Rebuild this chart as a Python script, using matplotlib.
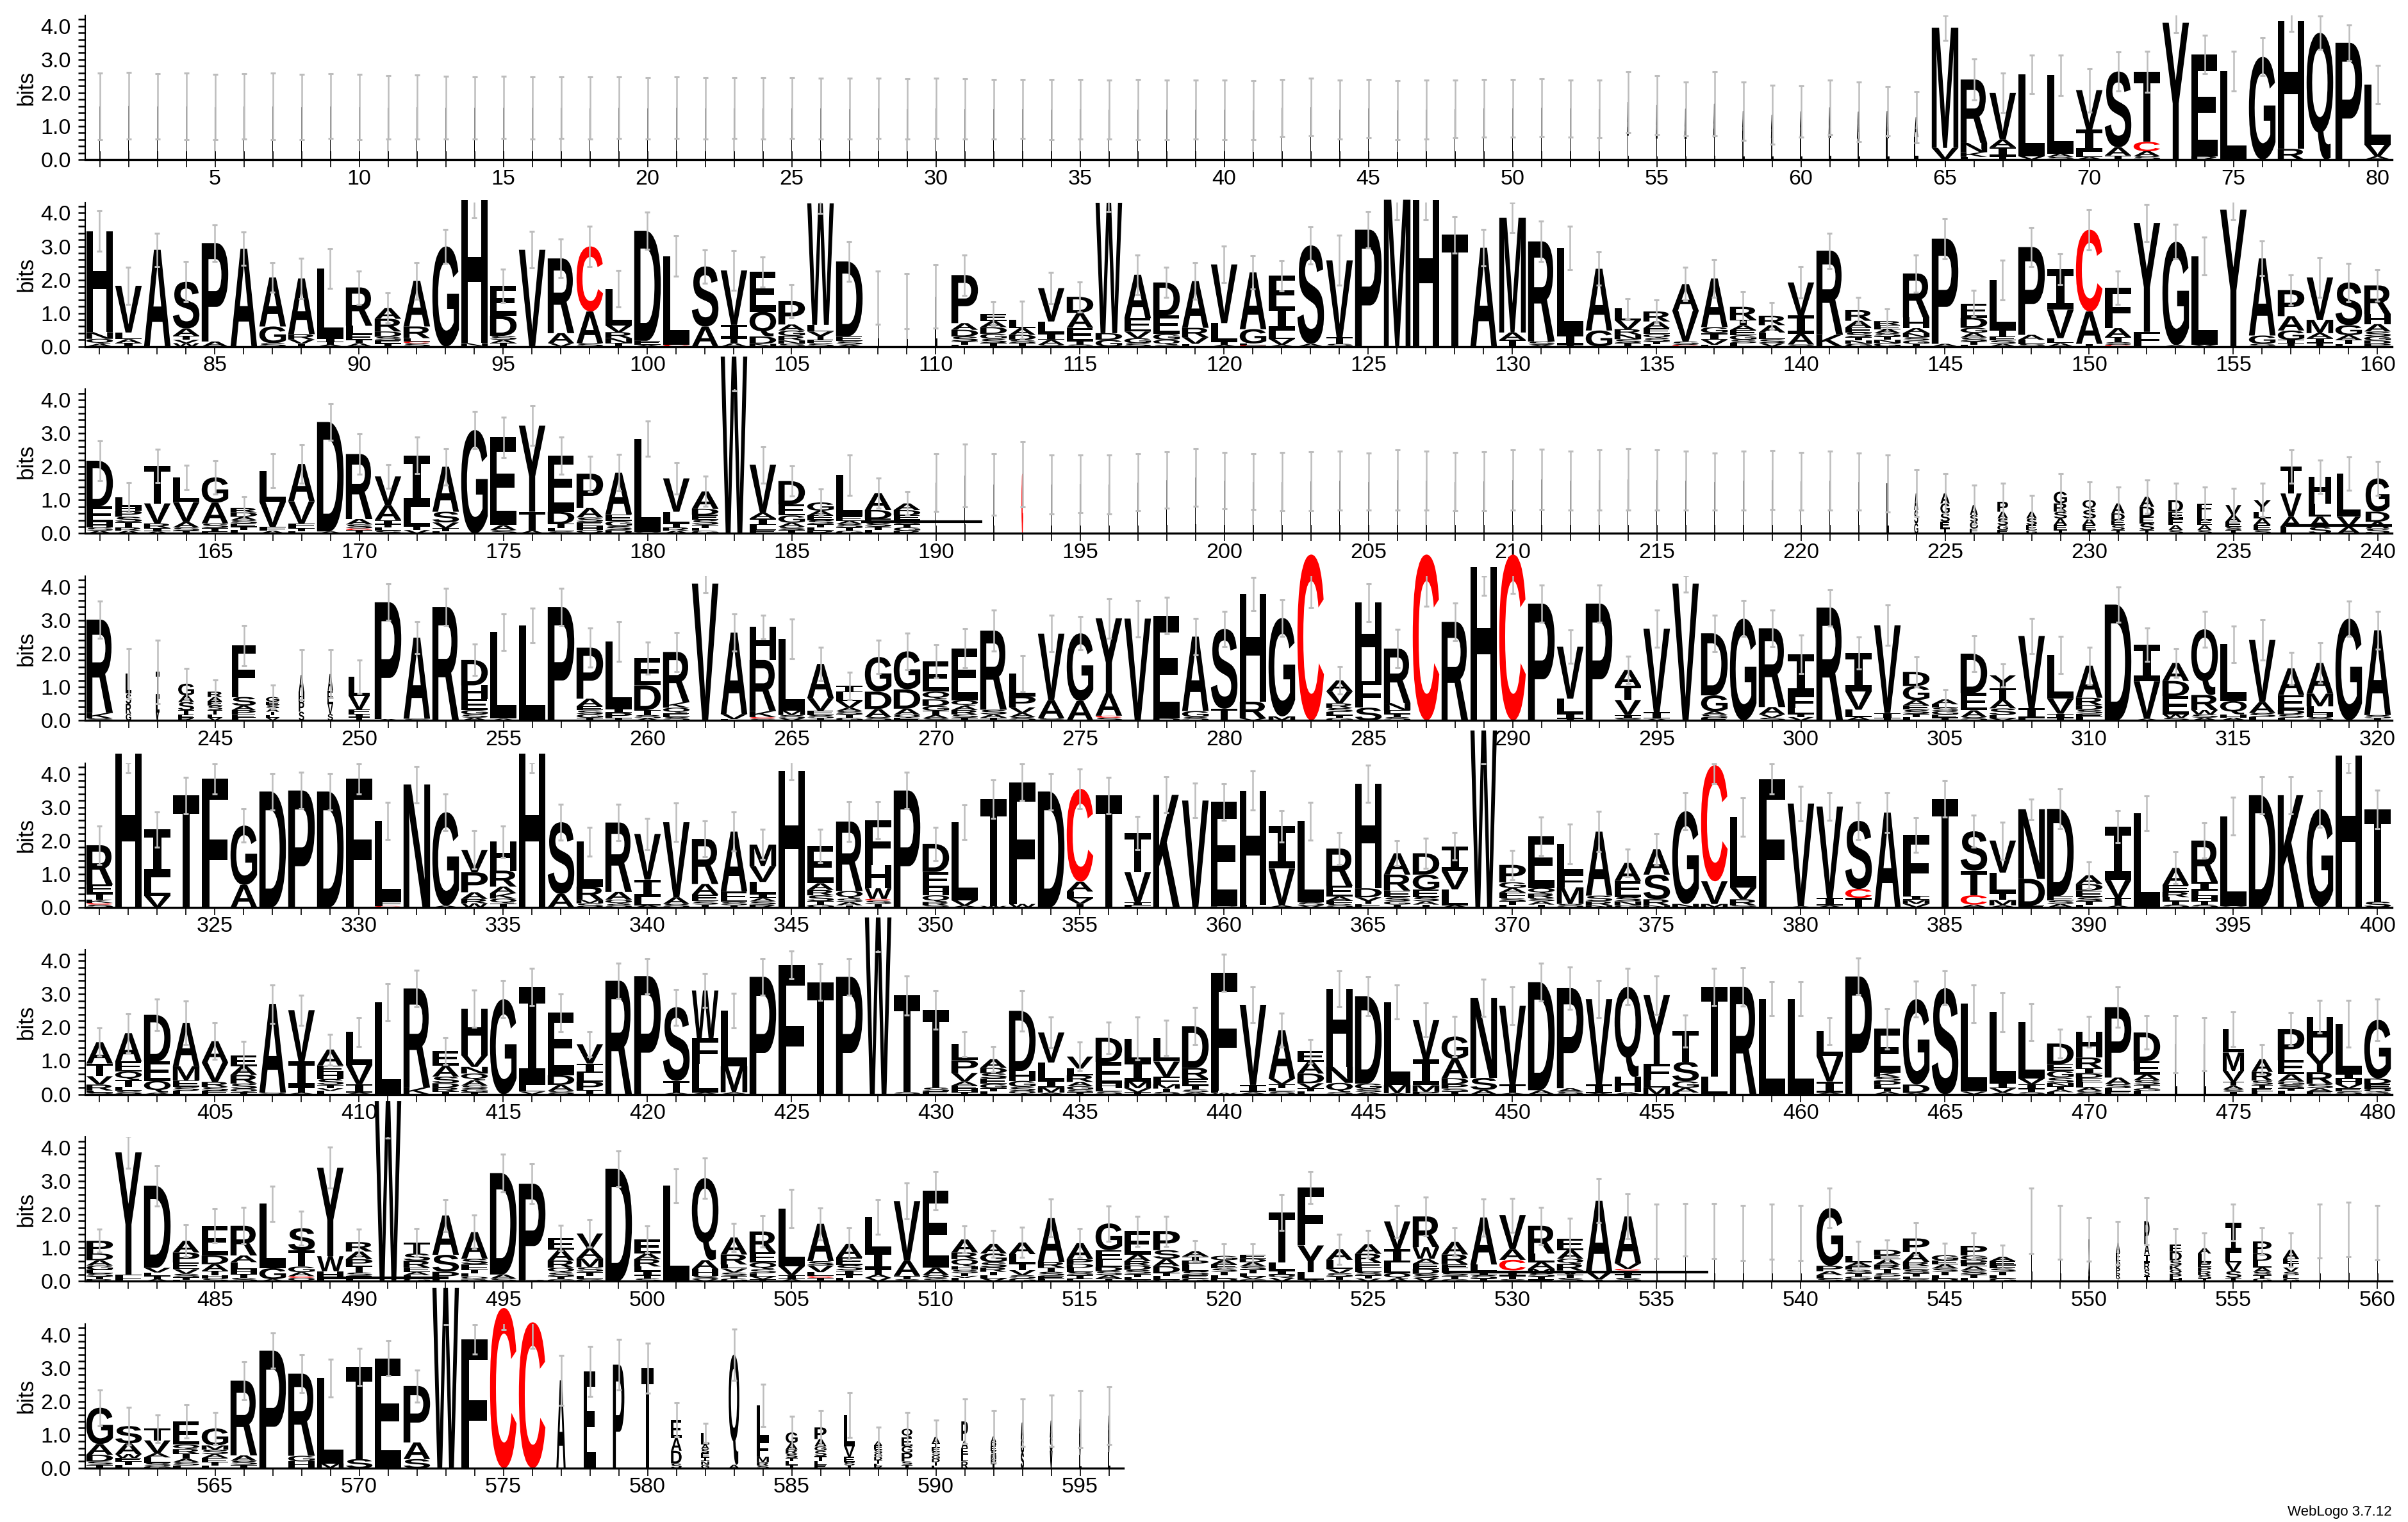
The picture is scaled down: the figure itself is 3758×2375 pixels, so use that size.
import matplotlib
matplotlib.use("Agg")
import matplotlib.pyplot as plt
from matplotlib.textpath import TextPath
from matplotlib.patches import PathPatch
from matplotlib.font_manager import FontProperties
from matplotlib.transforms import Affine2D
from matplotlib.ticker import MultipleLocator

# one string per column: letters from the top of the stack down with their
# height in bits, e = half length of the error bar, c = error bar centre when
# it is not the stack top, w = stack width (gappy columns are narrow)
row1 = [
    "L1.6 e1.0 w.02", "L1.62 e1.0 w.02", "L1.6 e.98 w.02", "L1.6 e1.0 w.02", "L1.58 e.98 w.02",
    "L1.6 e.98 w.02", "L1.6 e1.0 w.02", "L1.58 e.98 w.02", "L1.6 e.97 w.02", "L1.58 e.98 w.02",
    "L1.56 e.95 w.02", "L1.58 e.96 w.02", "L1.55 e.94 w.02", "L1.55 e.93 w.02", "L1.56 e.93 w.02",
    "L1.55 e.93 w.02", "L1.55 e.92 w.02", "L1.54 e.93 w.02", "L1.55 e.92 w.02", "L1.54 e.92 w.02",
    "L1.55 e.92 w.02", "L1.53 e.92 w.02", "L1.54 e.91 w.02", "L1.53 e.92 w.02", "L1.54 e.91 w.02",
    "L1.53 e.91 w.02", "L1.52 e.91 w.02", "L1.53 e.9 w.02", "L1.52 e.9 w.02", "L1.53 e.9 w.02",
    "L1.52 e.9 w.02", "L1.51 e.9 w.02", "L1.52 e.89 w.02", "L1.5 e.9 w.02", "L1.51 e.89 w.02",
    "L1.5 e.89 w.02", "L1.5 e.9 w.02", "L1.49 e.89 w.02", "L1.5 e.89 w.02", "L1.49 e.89 w.02",
    "L1.48 e.88 w.02", "L1.55 e.86 w.02", "L1.57 e.86 w.02", "L1.5 e.88 w.02", "L1.53 e.87 w.02",
    "L1.48 e.89 w.02", "L1.5 e.88 w.02", "L1.52 e.86 w.02", "L1.54 e.86 w.02", "L1.54 e.86 w.02",
    "L1.56 e.86 w.02", "L1.53 e.86 w.02", "L1.52 e.87 w.02", "A1.0 L.72 e.91 w.03", "A1.0 L.63 e.88 w.03",
    "A.9 L.62 e.81 w.04", "A1.0 L.67 e.96 w.04", "A.8 L.65 e.88 w.05", "A.7 L.64 e.88 w.06", "A.8 L.64 e.77 w.06",
    "A.9 L.66 e.82 w.07", "A.8 L.63 e.9 w.09", "A.8 L.65 e.74 w.1", "A.6 L.67 e.77 w.15", "M3.6 V.35 e.38",
    "R1.9 N.28 K.14 L.08 e.62", "V1.4 A.23 I.27 T.1 e.59", "L2.45 V.1 e.58", "L2.35 A.1 S.08 e.6", "V1.18 I.67 L.15 A.08 e.65",
    "S2.27 A.25 T.12 e.59", "T2.1 C.28 A.15 S.1 e.62", "Y4.1 e.3", "E3.05 R.1 e.58", "L2.65 e.6",
    "G3.08 e.57", "H3.83 R.32 e.3", "Q3.8 e.5", "P3.5 e.54", "L1.8 V.35 A.1 e.57",
]

row2 = [
    "H3.03 N.2 Q.15 A.08 e.6", "V1.4 L.2 A.12 I.1 e.55", "A2.9 e.5", "S1.4 A.22 T.12 V.1 W.1 e.6", "P2.95 A.15 e.55",
    "A2.93 e.5", "A1.47 G.5 S.1 e.45", "A1.67 R.16 V.13 T.08 e.6", "L2.1 I.1 T.08 A.06 e.6", "R1.15 L.26 E.16 T.1 A.1 e.5",
    "A.32 R.38 D.16 S.1 E.1 T.09 e.45", "A1.37 R.35 L.1 C.05 S.1 e.55", "G3.0 e.5", "H4.3 N.1 c4.13 e.27", "E.9 D.6 S.12 A.1 T.1 e.5",
    "V2.9 e.55", "R2.24 A.3 V.1 e.58", "C1.95 A.95 S.1 e.6", "L1.1 V.2 R.18 N.15 T.1 e.55", "D3.3 E.12 A.05 e.55",
    "L2.65 C.06 e.6", "S1.8 A.6 e.5", "V1.63 I.4 T.15 A.1 e.6", "E1.2 Q.74 D.22 N.08 e.45", "P.7 A.18 G.16 R.14 N.1 S.08 e.5",
    "W3.64 L.2 Y.25 E.1 S.1 e.3", "D2.24 E.15 S.1 A.06 e.6", "L1.46 e.8 w.03", "L1.36 e.83 w.03", "L1.5 e.95 w.05",
    "P1.44 A.2 D.2 S.15 T.1 L.05 e.6", "E.22 A.18 D.2 G.15 S.13 T.1 e.35", "L.25 A.2 D.15 S.1 T.1 e.55", "V1.0 L.35 I.2 A.15 S.05 e.47", "D.48 A.45 E.4 T.1 S.06 e.45",
    "W3.9 D.2 G.2 e.25", "A1.3 E.4 V.2 G.15 S.1 e.6", "D.99 E.55 G.18 Q.15 S.05 e.45", "A1.4 R.28 V.2 L.08 e.55", "V1.76 L.55 T.1 A.05 e.55",
    "A1.7 G.43 L.05 C.04 e.5", "F.92 I.72 L.25 V.18 A.05 e.45", "S2.95 A.08 e.55", "V2.3 T.2 S.08 e.75", "P3.5 e.55",
    "M4.4 c4.1 e.3", "H4.4 c4.1 e.3", "T3.35 e.55", "A2.96 e.55", "M3.44 A.22 T.2 e.45",
    "R3.0 S.1 A.05 e.6", "L2.6 I.3 T.05 e.65", "A1.85 G.48 e.5", "L.35 V.27 R.16 N.14 S.12 T.1 e.3", "R.3 A.2 E.18 Q.12 S.1 T.08 L.07 e.35",
    "A.8 V.92 S.1 C.05 e.5", "A1.46 G.18 I.2 V.15 L.05 e.56", "R.39 T.16 A.15 E.15 G.14 S.1 L.1 e.45", "R.28 A.22 L.2 S.12 V.1 e.4", "V.99 I.55 A.32 S.06 e.47",
    "R2.52 K.35 e.53", "R.32 A.2 E.15 S.14 T.1 N.1 G.08 e.38", "R.12 E.12 A.12 S.1 T.1 N.1 G.1 e.37", "R1.32 H.32 A.15 N.12 S.1 G.1 T.08 e.56", "P3.15 A.08 e.6",
    "E.43 D.3 G.15 A.14 S.12 T.1 L.05 e.4", "L1.49 T.2 E.12 S.1 A.08 e.6", "P2.63 A.15 L.12 S.08 e.58", "I1.21 V.85 L.15 A.1 e.46", "C2.45 A.97 T.08 e.6",
    "F1.21 A.27 T.15 S.08 C.05 e.5", "Y3.26 F.44 e.55", "G3.1 A.04 e.52", "L2.65 V.06 e.57", "Y4.1 e.3",
    "A2.31 G.25 S.08 e.52", "P.78 A.43 G.28 I.1 T.1 e.45", "V1.27 M.4 A.15 I.15 T.1 e.6", "S1.28 G.3 A.14 T.12 L.08 e.58", "R.86 H.3 A.22 S.15 G.12 D.1 P.08 e.47",
]

row3 = [
    "D1.37 E.48 H.15 S.1 A.08 e.6", "L.28 H.12 P.18 S.16 T.16 R.1 A.08 e.45", "T1.13 V.6 R.14 I.1 A.06 e.5", "L.74 V.6 A.16 S.1 T.08 e.37", "G.76 A.62 S.14 T.1 E.06 e.5",
    "R.13 D.13 A.1 S.1 E.1 T.1 L.1 e.35", "L.93 V.75 F.12 A.08 e.5", "A1.12 V.66 F.14 T.1 L.06 e.58", "D3.28 A.06 e.55", "R1.95 A.16 S.12 C.05 T.1 e.6",
    "V.86 A.45 I.12 T.1 L.1 S.08 e.35", "I1.54 L.58 T.12 V.1 e.55", "A1.35 S.32 V.17 T.1 L.06 e.55", "G3.1 e.55", "E2.63 A.15 S.1 e.6",
    "Y2.58 T.57 A.08 e.6", "E1.68 D.36 T.13 L.1 S.06 e.55", "P1.03 A.28 S.14 E.12 H.12 Q.1 e.53", "A1.25 E.2 G.15 S.12 D.1 e.55", "L2.8 V.04 e.53",
    "V1.0 L.35 T.12 R.1 A.08 e.47", "A.52 D.18 E.15 S.15 T.1 L.08 G.08 e.45", "W5.3 c4.5 e.22", "V1.44 A.17 I.2 L.15 E.1 e.55", "D.7 E.33 G.22 A.12 S.1 T.1 e.45",
    "G.25 A.14 E.14 S.12 T.1 L.1 R.08 e.4", "L1.25 E.12 A.1 S.1 T.1 G.08 e.6", "A.51 D.26 E.12 S.12 T.1 L.1 e.45", "A.2 D.16 E.14 S.12 T.1 G.1 R.08 e.35", "L1.52 e.86 w.03",
    "L1.73 e.94 w.03", "L1.46 e.92 w.03", "C1.78 e.98 w.03", "L1.47 e.89 w.03", "L1.49 e.87 w.03",
    "L1.47 e.89 w.03", "L1.53 e.85 w.03", "L1.6 e.85 w.03", "L1.68 e.86 w.03", "L1.58 e.85 w.03",
    "L1.55 e.84 w.03", "L1.55 e.87 w.03", "L1.56 e.88 w.03", "L1.58 e.88 w.03", "L1.55 e.86 w.03",
    "L1.6 e.9 w.03", "L1.58 e.88 w.03", "L1.55 e.87 w.03", "L1.56 e.88 w.03", "L1.6 e.9 w.03",
    "L1.62 e.9 w.03", "L1.58 e.88 w.03", "L1.6 e.9 w.03", "L1.62 e.92 w.03", "L1.6 e.9 w.03",
    "L1.58 e.88 w.03", "L1.55 e.86 w.03", "L1.58 e.88 w.03", "L1.6 e.88 w.03", "L1.56 e.87 w.03",
    "L1.58 e.88 w.03", "L1.55 e.86 w.03", "L1.5 e.85 w.05", "A.5 S.4 G.3 w.15 e.7", "A.3 G.3 S.25 E.2 T.15 w.35 e.6",
    "A.3 S.2 G.2 E.15 w.3 e.6", "P.3 A.2 S.2 G.15 E.1 w.4 e.55", "A.2 S.2 E.15 G.1 w.4 e.5", "G.35 R.25 S.2 A.2 E.15 T.1 w.5 e.55", "Q.3 S.25 A.2 E.15 T.1 w.5 e.55",
    "A.3 D.2 E.15 S.15 T.1 w.5 e.5", "A.3 D.3 E.2 S.2 T.1 w.55 e.5", "D.35 E.2 F.2 A.15 S.1 w.55 e.5", "F.3 L.2 E.15 A.15 S.1 w.55 e.5", "V.3 A.2 E.15 S.1 T.1 w.6 e.5",
    "Y.35 L.2 A.2 E.15 S.1 w.65 e.5", "T.8 V.7 A.3 L.2 w.8 e.5", "H.8 L.4 A.3 S.2 w.85 e.5", "L1.3 V.3 A.2 w.9 e.5", "G1.0 D.3 A.2 S.15 w.9 e.5",
]

row4 = [
    "R2.8 K.16 S.06 e.55", "L.6 S.3 R.3 G.2 w.2 e.75", "I.8 L.4 V.26 w.1 e.95", "G.35 A.2 S.25 T.12 E.1 R.08 w.6 e.45", "R.16 A.13 E.13 S.13 T.13 L.1 V.08 w.55 e.35",
    "F1.54 S.26 A.13 P.13 E.1 L.08 w.9 e.6", "G.14 E.1 S.1 A.1 T.1 L.08 V.08 w.5 e.35", "A.5 H.3 P.3 S.26 w.2 e.75", "A.5 E.4 V.3 S.19 w.2 e.72", "L.57 V.42 F.12 I.1 T.1 w.8 e.5",
    "P3.5 A.04 e.55", "A2.43 S.05 e.48", "R3.4 e.55", "D.76 H.42 E.32 G.13 S.1 A.08 e.47", "L2.6 A.05 e.55",
    "L2.84 e.52", "P3.4 e.55", "P1.53 A.23 E.12 S.12 G.1 T.08 e.58", "L2.0 I.13 P.15 T.08 e.6", "E.82 D.74 T.15 S.1 A.06 e.48",
    "R1.51 K.16 Q.16 E.12 S.1 e.58", "V4.1 e.27", "A2.44 V.15 L.04 e.56", "H.99 R1.53 K.18 C.05 S.05 e.35", "L2.15 M.13 S.1 V.06 e.6",
    "A1.02 V.38 E.13 S.1 T.06 e.5", "I.19 L.26 V.2 A.1 S.1 T.1 G.08 e.42", "G1.04 D.52 A.24 S.1 e.5", "G1.14 D.58 A.18 Q.1 E.07 e.55", "E.91 Q.23 D.2 G.14 T.13 A.1 S.06 e.5",
    "E1.56 Q.17 A.12 R.13 S.1 T.08 e.58", "R2.37 S.14 A.1 T.08 e.62", "L.68 P.33 V.17 A.12 S.1 e.54", "V1.99 A.55 S.06 e.55", "G2.03 A.58 e.5",
    "Y2.25 A.67 C.06 S.08 e.6", "V3.05 e.55", "E3.08 D.06 e.55", "A2.23 G.18 S.1 e.55", "S2.39 T.35 e.52",
    "H3.22 R.5 V.06 e.5", "G2.95 M.12 e.55", "C4.97 c3.88 e.49", "A.33 V.36 R.14 S.12 L.1 T.08 G.07 e.42", "H2.35 F.8 S.38 e.57",
    "R1.63 N.22 E.1 T.1 S.1 e.58", "C4.97 c3.9 e.48", "R2.95 e.57", "H4.6 c4.04 e.29", "C4.97 c4.1 e.3",
    "P3.5 e.55", "V1.56 L.45 I.15 T.05 e.5", "P3.5 e.55", "A.48 T.42 V.45 I.1 S.06 e.42", "V2.5 I.2 A.05 e.55",
    "V4.1 e.25", "D1.86 G.48 A.1 S.1 E.07 e.55", "G3.05 e.54", "R2.36 A.22 V.1 S.08 e.55", "I1.22 F.4 L.16 T.1 V.1 e.57",
    "R3.38 e.55", "I1.15 V.55 L.22 A.1 e.48", "V2.63 I.16 T.06 e.6", "D.42 G.42 A.16 E.13 S.13 T.1 L.09 e.45", "A.15 L.1 S.1 G.1 E.1 T.08 e.3",
    "D1.18 E.52 A.2 S.1 e.53", "Y.38 T.35 A.26 S.2 L.1 V.06 e.35", "V2.17 I.3 L.06 e.53", "L1.31 V.45 I.13 T.07 e.55", "A.96 R.22 D.14 S.12 E.1 L.1 e.56",
    "D3.47 e.53", "I1.1 V1.12 A.05 e.5", "A.54 D.45 E.55 W.1 S.08 e.44", "Q1.97 R.45 W.13 S.1 A.08 e.53", "L1.7 Q.4 H.1 A.08 e.55",
    "V1.86 A.33 S.12 L.1 e.6", "A.8 E.45 D.13 S.1 L.08 e.48", "A.92 M.38 L.2 H.12 S.1 e.6", "G3.05 e.53", "A2.54 S.1 T.06 e.57",
]

row5 = [
    "R1.18 E.26 T.19 K.1 C.05 S.08 e.57", "H4.6 c4.18 e.15", "I1.43 L.55 V.35 e.52", "T3.35 e.55", "F3.85 e.45",
    "G1.78 A.67 e.5", "D3.47 e.55", "P3.5 e.55", "D3.47 e.55", "F3.85 e.45",
    "L2.42 F.13 C.04 e.55", "N3.68 e.55", "G2.8 A.05 e.55", "V.67 P.6 A.2 R.13 W.12 e.58", "H.87 R.48 A.2 K.16 Q.14 T.12 e.47",
    "H4.6 c4.18 e.15", "S2.15 A.4 e.53", "L1.35 R.4 M.1 S.12 e.43", "R2.08 A.23 Q.13 S.1 e.55", "V1.37 I.52 L.25 A.06 e.47",
    "V2.25 A.2 S.1 e.57", "R1.35 A.32 E.2 S.1 T.08 e.53", "A1.79 E.32 S.1 T.06 e.58", "M.64 V.48 L.35 I.13 A.1 S.1 R.08 e.45", "H4.08 e.27",
    "E1.12 A.2 R.16 S.18 T.1 G.08 e.5", "R2.08 Q.23 S.1 A.1 T.06 e.6", "F1.34 H.7 W.32 C.05 S.1 T.1 e.55", "P3.5 e.55", "D.84 E.48 H.22 Q.2 R.1 S.06 e.5",
    "L2.34 V.16 A.05 e.51", "T3.2 W.04 e.58", "F3.65 W.1 e.55", "D3.47 e.55", "C2.78 A.3 L.2 V.17 T.1 e.6",
    "T3.35 e.55", "T1.18 V.9 I.1 L.05 e.5", "K3.37 e.54", "V3.2 e.52", "E3.13 D.03 e.55",
    "H3.42 L.08 e.58", "I1.27 V1.1 A.06 e.47", "L2.43 S.1 V.05 e.57", "R1.12 E.32 A.12 F.1 S.1 e.48", "H3.14 D.27 Y.2 E.1 e.56",
    "A.64 R.48 E.2 S.12 G.1 T.08 e.38", "D.64 G.45 E.22 S.13 A.1 T.08 e.46", "I.74 V.55 L.48 A.06 e.41", "W5.3 c4.52 e.22", "P.52 G.17 A.14 F.16 S.1 T.1 L.08 e.44",
    "E1.55 Q.17 R.13 S.1 A.1 T.08 e.58", "L.9 F.4 M.5 S.1 e.6", "A1.92 S.17 R.12 N.06 e.6", "A.54 E.48 S.13 N.12 G.06 e.42", "A.76 S.74 R.18 N.06 e.47",
    "G2.78 N.1 e.56", "C3.48 V.68 M.1 c4.0 e.3", "L2.11 V.35 R.18 S.06 e.58", "F3.84 e.45", "V3.08 A.03 e.52",
    "V2.74 I.23 A.05 e.42", "S2.04 C.27 T.28 e.55", "A2.84 e.6", "F1.82 I.13 M.12 V.1 e.52", "T3.25 e.55",
    "S1.18 T.74 C.28 A.08 e.48", "V.96 L.6 T.22 M.16 A.06 e.56", "N2.09 D.8 E.05 e.31", "D2.61 E.14 S.1 A.1 e.6", "A.26 D.2 E.2 S.12 T.1 L.08 e.4",
    "I1.6 V.54 T.23 A.05 e.48", "L2.82 e.52", "A.52 E.2 R.16 L.12 T.1 S.08 e.48", "R1.24 I.26 L.16 H.16 T.1 S.08 e.53", "L2.7 V.03 e.57",
    "D3.36 e.55", "K3.36 e.55", "G2.95 e.55", "H4.55 c4.18 e.15", "T2.77 S.17 e.58",
]

row6 = [
    "A.64 T.38 V.25 R.18 L.06 S.05 e.42", "A.85 E.3 Q.25 T.2 L.13 S.1 e.59", "D1.4 E.58 Q.35 A.05 e.47", "A1.3 M.42 E.2 S.12 L.1 e.65", "A.64 V.58 R.15 S.12 E.1 e.55",
    "E.32 A.26 R.26 S.16 Q.1 T.06 e.42", "A2.65 S.05 e.58", "V1.54 I.77 T.16 A.05 e.45", "A.48 E.2 H.2 S.18 T.1 V.08 L.1 e.46", "L.99 V.58 I.25 A.05 e.43",
    "L2.75 e.56", "R2.97 K.2 e.55", "E.45 A.32 S.2 D.13 R.12 T.08 e.4", "H1.39 V.35 N.2 Q.2 A.16 S.1 G.1 T.06 e.56", "G2.85 e.56",
    "I2.94 L.2 V.08 e.56", "E1.87 D.29 A.18 S.1 e.56", "V.58 I.28 L.26 P.26 T.12 e.38", "R3.4 e.53", "P3.54 e.53",
    "S2.21 T.35 A.05 e.54", "W1.43 F.77 L.86 A.05 e.51", "L1.66 M.78 A.06 e.52", "P3.52 e.55", "F3.88 e.42",
    "T3.36 e.55", "P3.52 e.55", "W5.3 c4.5 e.22", "T2.9 S.06 e.58", "T2.33 S.12 E.08 e.58",
    "L.48 P.38 V.26 A.12 E.1 H.1 T.06 e.38", "A.26 D.16 S.16 E.16 G.13 T.1 L.08 e.38", "D1.8 H.3 G.18 S.12 Q.1 e.6", "V.9 L.55 I.2 M.15 A.05 e.46", "V.36 L.2 R.2 A.13 G.1 S.08 T.06 e.43",
    "D.72 E.66 H.13 L.1 S.08 e.47", "L.67 I.62 M.2 V.12 T.06 e.65", "L.71 V.46 F.22 M.13 T.1 S.07 e.52", "D1.25 R.32 E.2 T.13 S.08 A.06 e.56", "F3.54 L.06 W.04 e.56",
    "V2.4 I.22 A.06 e.54", "A1.45 V.17 T.12 L.1 S.08 e.51", "E.32 A.35 D.29 V.15 T.1 L.08 e.35", "H2.34 N.48 Q.28 S.06 e.54", "D2.62 G.16 S.1 A.06 e.59",
    "L2.48 M.25 A.03 e.51", "V1.18 I.77 M.2 P.07 e.51", "G.67 A.58 D.18 P.13 S.08 T.09 e.6", "N2.4 S.36 A.13 e.55", "V2.36 T.25 A.04 e.57",
    "D3.24 A.12 e.56", "P3.0 A.1 S.08 e.64", "V2.56 I.26 A.03 e.56", "Q2.7 H.46 A.06 e.55", "Y2.06 F.48 L.23 M.2 e.57",
    "T.93 S.58 G.2 A.14 L.05 e.48", "T2.7 L.52 e.56", "R3.22 e.58", "L2.86 e.51", "L2.86 e.51",
    "L.74 V.77 I.33 A.05 e.41", "P3.53 e.55", "E1.31 K.13 S.12 D.12 L.1 T.1 A.08 e.6", "G2.56 D.25 A.04 e.54", "S3.18 e.51",
    "L2.63 V.08 e.56", "L2.11 I.17 V.13 A.05 e.58", "L1.69 V.17 I.14 T.1 S.06 e.56", "D.62 E.2 G.2 S.16 N.1 T.1 A.08 L.06 e.43", "H.77 R.32 I.16 D.13 E.13 L.16 A.1 S.1 e.46",
    "P2.11 A.2 S.12 L.1 E.08 e.61", "D.86 E.4 A.17 S.14 T.1 G.08 L.1 e.5", "L1.5 e.86 w.05", "L1.5 e.8 w.05", "L.7 M.55 V.33 T.12 A.1 S.08 I.07 w.8 e.51",
    "A.38 R.26 S.13 T.1 E.1 L.08 w.8 e.44", "P.93 E.42 A.22 G.1 S.1 T.08 L.1 e.5", "H1.08 Y.58 R.35 S.13 A.1 E.08 e.49", "L1.5 I.15 H.16 V.12 E.1 S.08 e.7", "G1.76 D.16 E.14 Q.12 S.05 e.62",
]

row7 = [
    "P.38 D.2 A.16 G.13 E.1 S.1 T.08 R.06 e.35", "Y3.66 F.2 e.48", "D2.46 V.14 L.1 T.1 A.06 e.6", "A.35 P.3 E.2 V.14 S.1 T.08 L.04 e.48", "E.89 D.26 A.2 T.13 H.1 S.08 e.51",
    "R.89 A.2 L.22 H.13 T.12 S.1 e.55", "L1.93 G.33 A.06 e.53", "S.67 T.48 G.17 A.12 C.05 Q.1 e.51", "Y2.65 W.45 H.2 L.1 e.61", "R.28 A.23 P.2 T.2 S.1 E.1 L.06 e.39",
    "W5.4 c4.5 e.22", "T.32 S.22 R.2 E.13 A.1 L.1 G.08 e.42", "A1.18 S.51 P.2 L.08 e.48", "A.8 S.16 F.16 T.12 L.1 Q.08 P.05 e.51", "D3.04 A.12 S.08 e.56",
    "P2.88 R.04 e.6", "E.35 A.32 R.22 Q.14 S.12 T.08 G.06 e.39", "V.45 A.3 M.26 S.14 T.12 L.1 G.06 e.41", "D3.37 e.54", "E.42 A.17 R.22 L.14 I.12 T.1 S.08 e.41",
    "L2.86 e.51", "Q2.46 A.27 H.2 S.1 V.06 e.6", "A.51 R.3 L.12 V.12 S.1 T.08 G.08 e.42", "R.63 E.3 Q.2 S.12 L.1 V.08 T.06 e.47", "L1.73 V.27 I.12 A.06 e.58",
    "A1.12 S.13 V.2 L.12 C.05 T.1 e.48", "A.41 E.22 S.17 I.12 T.1 L.1 e.48", "L1.06 I.52 T.15 A.1 V.1 e.52", "V1.79 A.45 T.1 S.06 e.54", "E2.31 A.22 Q.1 S.08 e.58",
    "A.39 R.2 Q.22 H.1 S.1 T.08 V.06 L.1 e.41", "A.29 G.26 S.16 R.13 T.1 L.1 V.08 e.41", "A.35 L.28 T.2 V.15 S.1 G.08 e.45", "A1.31 R.17 T.13 S.12 E.1 L.06 e.57", "A.48 P.14 D.12 L.12 S.1 T.1 E.08 e.43",
    "G.8 E.3 L.2 D.13 S.12 A.1 T.08 e.53", "E.7 A.2 R.13 D.13 S.12 T.1 L.08 G.04 e.45", "P.57 S.26 A.22 D.2 T.1 L.1 G.05 e.45", "A.16 T.12 P.14 L.18 S.12 E.1 G.08 e.31", "G.13 A.13 E.12 S.1 T.1 L.1 D.08 e.35",
    "E.13 D.1 A.13 S.1 T.1 L.1 V.08 G.06 e.32", "T1.49 L.25 I.12 Q.1 V.1 e.53", "F1.73 Y.8 L.22 A.05 e.48", "A.32 L.28 V.12 S.1 T.1 G.04 e.45", "A.29 R.26 E.16 L.12 S.1 T.1 V.08 e.41",
    "V.83 I.4 L.32 Q.16 A.08 e.48", "R.92 W.35 A.15 E.15 D.15 S.12 V.1 e.58", "A.38 R.29 E.13 L.12 S.1 T.1 G.06 e.42", "A1.41 L.2 I.12 S.1 T.08 e.56", "V1.02 A.32 C.32 I.16 T.1 S.06 e.51",
    "R.83 L.26 A.2 M.13 S.1 T.08 E.06 e.56", "E.35 A.26 Q.15 R.2 V.12 T.1 S.1 e.61", "A2.14 V.22 T.05 e.66", "A1.4 V.17 C.05 I.12 T.1 S.1 e.67", "L1.49 e.82 w.03",
    "L1.54 e.79 w.03", "L1.5 e.82 w.03", "L1.45 e.83 w.03", "L1.48 e.82 w.03", "L1.45 e.83 w.03",
    "G1.73 P.16 A.12 L.1 S.08 e.59", "L.2 A.12 E.1 S.1 T.1 G.08 R.06 e.43", "D.16 E.13 A.16 R.12 T.13 S.1 L.08 G.06 e.3", "P.41 A.29 R.12 E.12 S.1 T.1 L.08 G.06 e.48", "G.16 E.12 A.12 S.1 T.1 L.1 D.08 e.35",
    "P.29 G.13 D.1 E.1 A.12 S.12 T.1 L.1 e.38", "A.13 E.12 F.1 S.1 T.1 L.1 G.08 e.35", "L1.81 e.98 w.03", "L1.47 e.81 w.03", "V.7 A.55 e.65 w.05",
    "A.3 E.25 D.2 P.15 R.15 T.1 w.15 e.64", "P.7 A.3 I.25 R.2 S.2 T.15 w.2 e.7", "E.22 D.26 S.15 K.13 Q.12 P.12 H.1 w.45 e.48", "A.16 L.28 E.13 P.12 R.12 S.1 T.08 w.5 e.45", "I.91 L.29 V.26 S.2 T.1 w.6 e.54",
    "P.35 D.23 L.2 A.13 S.1 T.1 G.08 w.7 e.4", "A.27 F.13 T.13 V.13 S.1 L.1 G.08 w.6 e.51", "L1.5 e.8 w.03", "L1.55 e.82 w.03", "L1.45 e.82 w.03",
]

row8 = [
    "G1.09 A.32 D.2 S.1 T.1 e.54", "S.52 A.32 W.12 E.1 T.1 L.1 e.57", "T.35 V.38 A.13 L.16 S.1 G.06 e.41", "E.7 Q.13 R.13 T.16 A.1 S.1 F.08 e.5", "G.51 M.13 S.13 A.12 E.12 T.1 L.08 e.48",
    "R2.24 A.16 S.12 T.1 e.57", "P3.52 e.53", "R2.46 G.17 H.2 e.57", "L2.56 M.14 e.57", "T2.76 S.27 e.56",
    "E3.29 e.53", "P1.69 A.5 S.27 e.48", "W5.4 c4.5 e.2", "F3.86 e.45", "C4.8 c4.3 e.15",
    "C4.37 c3.98 e.39", "A2.63 w.35 e.74", "E2.9 w.45 e.75", "P3.1 w.43 e.75", "T3.0 w.45 e.75",
    "E.54 A.38 D.38 S.14 w.4 e.51", "L.35 A.13 S.13 E.13 I.12 N.1 G.1 w.3 e.29", "Q3.3 A.1 w.4 e.77", "L1.06 F.48 M.16 R.1 S.08 w.45 e.64", "G.32 A.19 R.13 S.13 I.1 L.1 T.1 w.45 e.48",
    "P.35 A.22 G.13 S.16 T.16 L.1 E.1 w.45 e.51", "L.93 V.32 E.16 S.1 T.08 w.4 e.67", "A.12 E.12 S.12 G.1 D.1 T.1 L.08 R.06 w.3 e.43", "Q.26 E.26 G.2 P.26 S.1 T.1 w.4 e.48", "A.2 I.12 E.12 S.12 G.1 D.1 T.1 L.08 w.3 e.49",
    "P.58 A.22 E.2 L.2 R.2 w.25 e.67", "A.17 D.13 E.13 S.13 M.13 P.12 T.14 w.2 e.77", "A.5 G.4 S.46 w.1 e.71", "A.5 S.4 V.52 w.08 e.77", "A.6 V.47 L.4 w.05 e.85",
    "A.6 V.5 L.47 w.05 e.87",
]

row_starts = [1, 81, 161, 241, 321, 401, 481, 561]
rows = [row1, row2, row3, row4, row5, row6, row7, row8]

# flattened letters that spread over several columns near the baseline
flat_lines = [(187.4, 191.6, 0.35), (236.8, 240.5, 0.23), (488.6, 493.1, 0.1), (527.6, 536.8, 0.27)]

FONT = FontProperties(family="Liberation Sans", weight="bold")
MONO = FontProperties(family="Liberation Mono", weight="bold")
GREY = "#bdbdbd"
_glyphs = {}


def glyph(ch):
    if ch not in _glyphs:
        p = TextPath((0, 0), ch, size=1, prop=MONO if ch == "I" else FONT)
        ext = p.get_extents()
        _glyphs[ch] = (p, ext.x0, ext.y0, ext.width, ext.height)
    return _glyphs[ch]


def parse(col):
    letters, err, cen, wid = [], 0.5, None, 1.0
    for tok in col.split():
        k, v = tok[0], float(tok[1:])
        if k == "e":
            err = v
        elif k == "c":
            cen = v
        elif k == "w":
            wid = v
        else:
            letters.append((k, v))
    return letters, err, cen, wid


def draw_letter(ax, ch, x, y, w, h):
    p, x0, y0, bw, bh = glyph(ch)
    tr = Affine2D().translate(-x0, -y0).scale(w / bw, h / bh).translate(x - w / 2, y)
    color = "#ff0000" if ch == "C" else "black"
    lw = 0.6 if w < 0.1 else 0
    ax.add_patch(PathPatch(tr.transform_path(p), fc=color, ec=color, lw=lw, clip_on=False, zorder=2))


fig = plt.figure(figsize=(37.58, 23.75), dpi=100)
W, H = 3758.0, 2375.0
x_left, col_px = 133.0, 45.0

for i, (start, cols) in enumerate(zip(row_starts, rows)):
    n = len(cols) if i == 7 else 80
    base = 249 + 291.7 * i
    ax = fig.add_axes([x_left / W, 1 - base / H, n * col_px / W, 225 / H])
    end = start + n - 1
    ax.set_xlim(start - 0.5, end + 0.5)
    ax.set_ylim(0, 4.3219)

    for k, col in enumerate(cols):
        pos = start + k
        letters, err, cen, wid = parse(col)
        y = 0.0
        for ch, h in reversed(letters):
            draw_letter(ax, ch, pos, y, 0.92 * wid, h)
            y += h
        c = y if cen is None else cen
        ax.errorbar(pos, c, yerr=err, fmt="none", ecolor=GREY, elinewidth=1.8,
                    capsize=3.2, capthick=2.2, zorder=3)

    for a, b, yy in flat_lines:
        if start - 0.5 <= a <= end + 0.5:
            ax.hlines(yy, a, min(b, end + 0.5), color="black", lw=3, zorder=2)

    for s in ("top", "right"):
        ax.spines[s].set_visible(False)
    ax.spines["bottom"].set_linewidth(2.4)
    ax.spines["left"].set_linewidth(1.5)
    ax.set_xticks([t for t in range(start, end + 1) if t % 5 == 0])
    ax.xaxis.set_minor_locator(MultipleLocator(1))
    ax.yaxis.set_major_locator(MultipleLocator(1))
    ax.yaxis.set_minor_locator(MultipleLocator(0.2))
    ax.set_yticklabels([f"{v:.1f}" for v in ax.get_yticks()])
    ax.tick_params(axis="x", which="both", direction="out", length=8.5, width=1.2, pad=2,
                   labelsize=24.5)
    ax.tick_params(axis="y", which="both", direction="out", length=8, width=1.8, pad=8,
                   labelsize=24.5)
    for lab in ax.get_xticklabels() + ax.get_yticklabels():
        lab.set_fontfamily("Liberation Sans")
    ax.set_ylabel("bits", fontsize=25, family="Liberation Sans", labelpad=4)
    ax.set_facecolor("none")

fig.text(3733 / W, 5 / H, "WebLogo 3.7.12", ha="right", va="bottom", fontsize=16,
         family="Liberation Sans")

fig.savefig("out.png", dpi=100)
